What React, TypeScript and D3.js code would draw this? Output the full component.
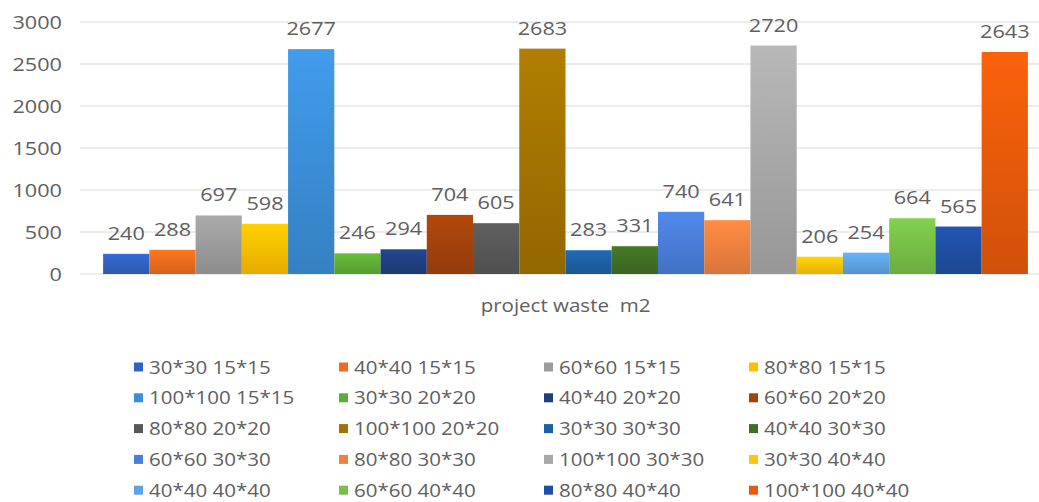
import React from "react";
import * as d3 from "d3";

// Single category, twenty series (mould size × tile size)
const categories = ["project waste  m2"];
const seriesNames = [
  "30*30 15*15", "40*40 15*15", "60*60 15*15", "80*80 15*15",
  "100*100 15*15", "30*30 20*20", "40*40 20*20", "60*60 20*20",
  "80*80 20*20", "100*100 20*20", "30*30 30*30", "40*40 30*30",
  "60*60 30*30", "80*80 30*30", "100*100 30*30", "30*30 40*40",
  "40*40 40*40", "60*60 40*40", "80*80 40*40", "100*100 40*40",
];
const seriesValues = [
  240, 288, 697, 598, 2677, 246, 294, 704, 605, 2683,
  283, 331, 740, 641, 2720, 206, 254, 664, 565, 2643,
];
const seriesColors = [
  "#3063c2", "#ee6c1c", "#9c9c9c", "#ffbf00", "#3b8fd8", "#5fae34",
  "#1f3f80", "#a4420c", "#585858", "#a27300", "#1d60a6", "#3f6f25",
  "#4a7ed8", "#f0813f", "#a8a8a8", "#ffc508", "#5ea4e4", "#78bf47",
  "#1f4fa2", "#e65a0a",
];
const yTicks = [0, 500, 1000, 1500, 2000, 2500, 3000];

const W = 1039;
const H = 502;
const FONT = "'Open Sans', 'DejaVu Sans', sans-serif";
const TEXT = "#606060";
const SX = 1.14; // horizontal stretch applied to all text

function STxt(props: {
  x: number; y: number; anchor?: string; size?: number; children: React.ReactNode; fill?: string;
}) {
  const { x, y, anchor = "start", size = 19, children, fill = TEXT } = props;
  return (
    <text
      transform={`translate(${x},${y}) scale(${SX},1)`}
      textAnchor={anchor}
      fontFamily={FONT}
      fontSize={size}
      fill={fill}
      style={{ whiteSpace: "pre" }}
    >
      {children}
    </text>
  );
}

export default function App() {
  const plotLeft = 80;
  const plotRight = 1051;
  const y = d3.scaleLinear().domain([0, 3000]).range([274, 22]);
  const xCat = d3.scaleBand<string>().domain(categories).range([plotLeft, plotRight]);
  const xSer = d3
    .scaleBand<string>()
    .domain(seriesNames)
    .range([xCat(categories[0])!, xCat(categories[0])! + xCat.bandwidth()])
    .paddingInner(0)
    .paddingOuter(0.5);

  const legendCols = 4;
  const legendX = d3.scaleLinear().domain([0, 1]).range([134, 339]);
  const legendY = d3.scaleLinear().domain([0, 1]).range([367, 397.8]);

  return (
    <svg
      width={W}
      height={H}
      style={{ position: "absolute", left: 0, top: 0, display: "block", background: "#fff" }}
    >
      <defs>
        {seriesColors.map((c, i) => {
          const base = d3.color(c)!;
          return (
            <linearGradient key={i} id={`g${i}`} x1="0" y1="0" x2="0" y2="1">
              <stop offset="0" stopColor={base.brighter(0.25).formatHex()} />
              <stop offset="1" stopColor={base.darker(0.3).formatHex()} />
            </linearGradient>
          );
        })}
      </defs>

      {/* gridlines and value axis */}
      {yTicks.map((t) => (
        <g key={t}>
          <line x1={plotLeft} x2={plotRight} y1={y(t)} y2={y(t)} stroke="#d9d9d9" strokeWidth={1} />
          <STxt x={62} y={y(t) + 7} anchor="end">
            {t}
          </STxt>
        </g>
      ))}

      {/* bars */}
      {seriesNames.map((s, i) => (
        <rect
          key={s}
          x={xSer(s)!}
          y={y(seriesValues[i])}
          width={xSer.bandwidth()}
          height={y(0) - y(seriesValues[i])}
          fill={`url(#g${i})`}
        />
      ))}

      {/* data labels */}
      {seriesNames.map((s, i) => (
        <STxt key={s} x={xSer(s)! + xSer.bandwidth() / 2} y={y(seriesValues[i]) - 14} anchor="middle">
          {seriesValues[i]}
        </STxt>
      ))}

      {/* category label */}
      <STxt x={(plotLeft + plotRight) / 2} y={312} anchor="middle" size={18}>
        {categories[0]}
      </STxt>

      {/* legend */}
      {seriesNames.map((s, i) => {
        const col = i % legendCols;
        const row = Math.floor(i / legendCols);
        const lx = legendX(col);
        const ly = legendY(row);
        return (
          <g key={s}>
            <rect x={lx} y={ly - 4.5} width={9} height={9} fill={seriesColors[i]} />
            <STxt x={lx + 15} y={ly + 6.5} size={18}>
              {s}
            </STxt>
          </g>
        );
      })}
    </svg>
  );
}
